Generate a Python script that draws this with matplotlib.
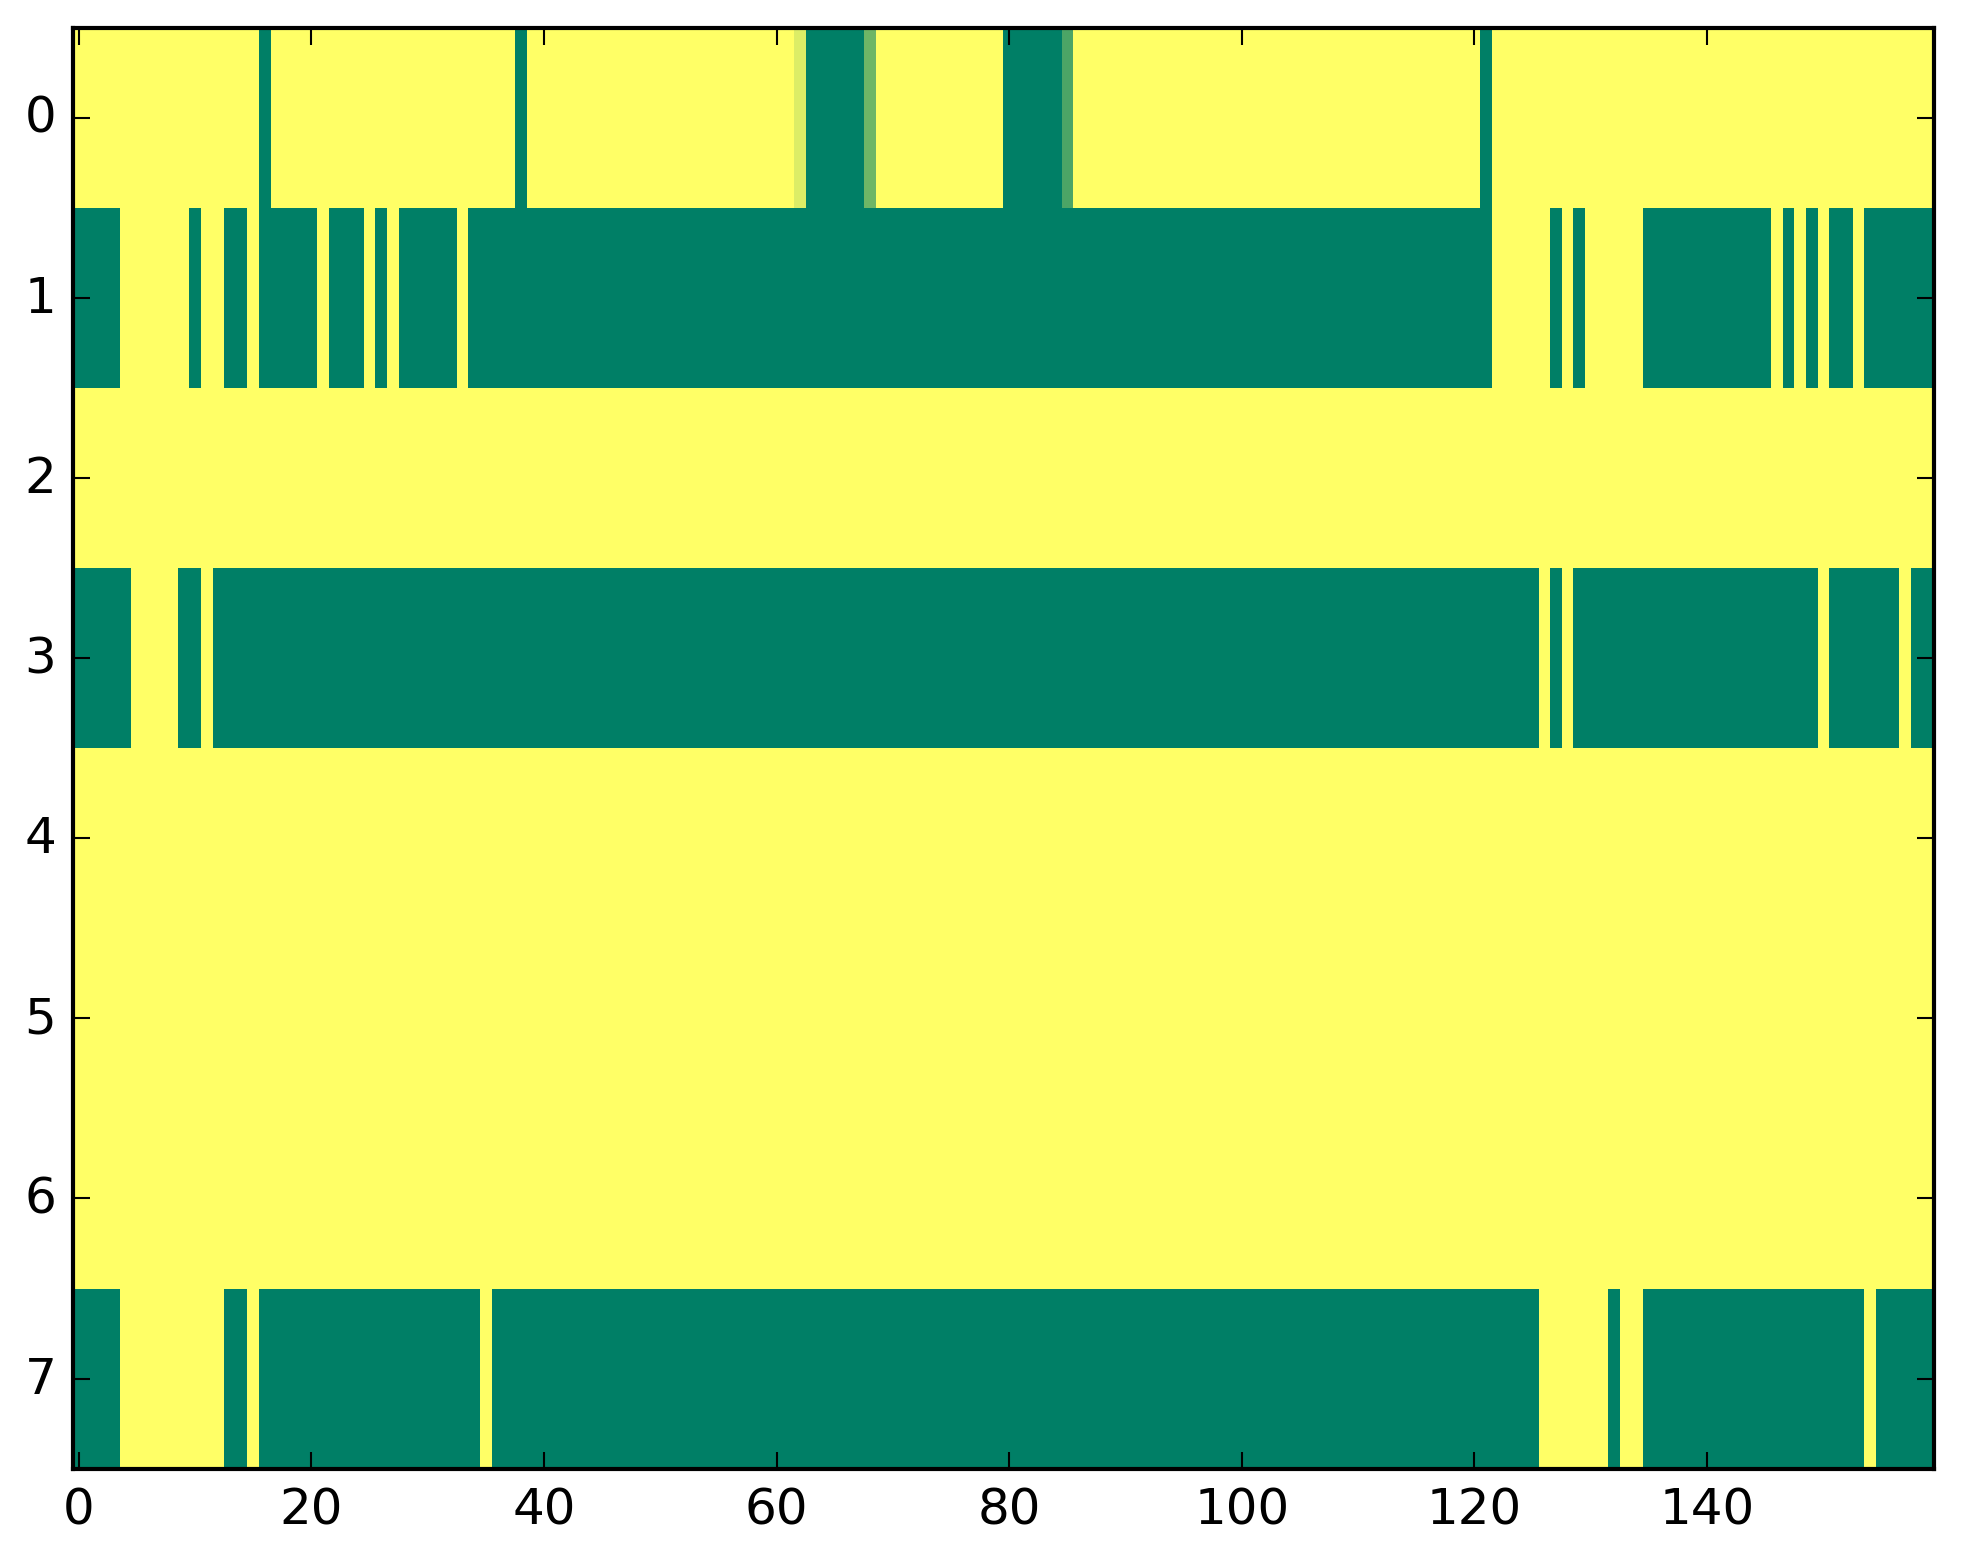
import numpy as np
import matplotlib
matplotlib.use("Agg")
import matplotlib.pyplot as plt

# Run-length encoded rows: (value, count); 1 = yellow, 0 = green
row0 = [(1, 16), (0, 1), (1, 21), (0, 1), (1, 23), (0.86, 1), (0, 5), (0.43, 1),
        (1, 11), (0, 5), (0.3, 1), (1, 35), (0, 1), (1, 38)]
row1 = [(0, 4), (1, 6), (0, 1), (1, 2), (0, 2), (1, 1), (0, 5), (1, 1), (0, 3), (1, 1),
        (0, 1), (1, 1), (0, 5), (1, 1), (0, 88), (1, 5), (0, 1), (1, 1), (0, 1), (1, 5),
        (0, 11), (1, 1), (0, 1), (1, 1), (0, 1), (1, 1), (0, 2), (1, 1), (0, 6)]
row2 = [(1, 160)]
row3 = [(0, 5), (1, 4), (0, 2), (1, 1), (0, 114), (1, 1), (0, 1), (1, 1), (0, 21),
        (1, 1), (0, 6), (1, 1), (0, 2)]
row4 = [(1, 160)]
row5 = [(1, 160)]
row6 = [(1, 160)]
row7 = [(0, 4), (1, 9), (0, 2), (1, 1), (0, 19), (1, 1), (0, 90), (1, 6), (0, 1),
        (1, 2), (0, 19), (1, 1), (0, 5)]

rows = [row0, row1, row2, row3, row4, row5, row6, row7]


def expand(runs):
    out = []
    for v, n in runs:
        out.extend([v] * n)
    return out


data = np.array([expand(r) for r in rows], dtype=float)

plt.style.use("classic")
W, H = 1963, 1564
fig = plt.figure(figsize=(W / 300, H / 300))
ax = fig.add_axes([73.0 / W, 94.4 / H, 1860.7 / W, 1441 / H])
ax.imshow(data, cmap="summer", vmin=0, vmax=1, interpolation="nearest", aspect="auto")
fig.savefig("out.png", dpi=300)
